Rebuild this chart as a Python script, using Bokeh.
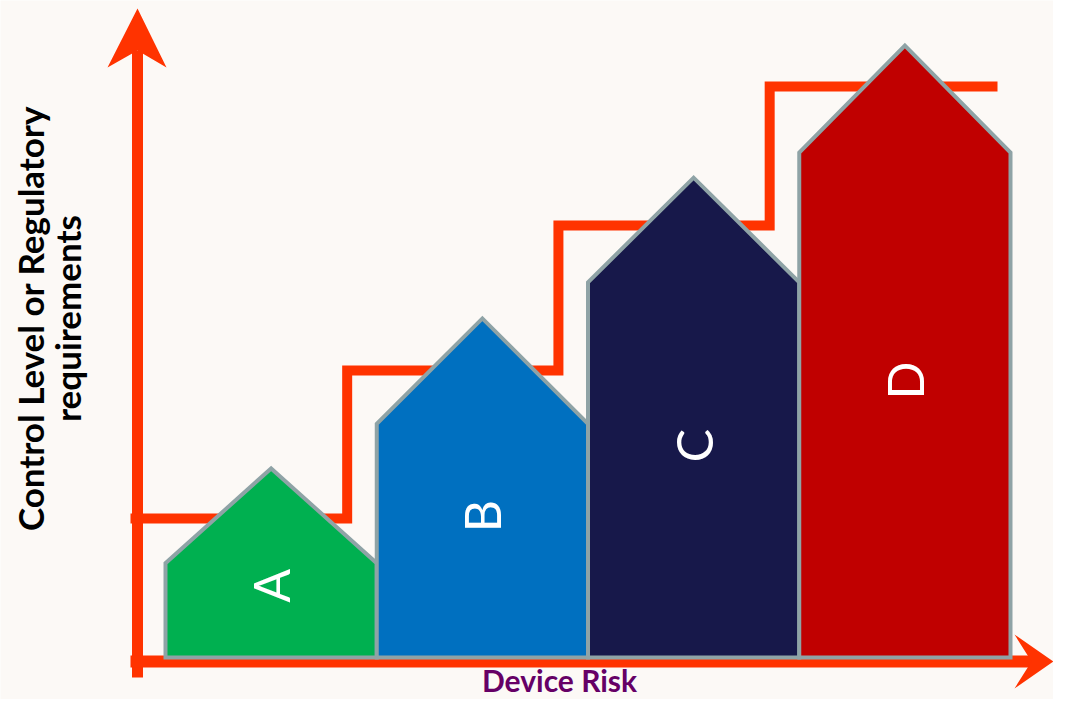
import numpy as np
from bokeh.plotting import figure
from bokeh.models import Range1d
from bokeh.core.properties import value
from bokeh.embed import file_html
from bokeh.resources import INLINE

# ---------------- data ----------------
categories = ["A", "B", "C", "D"]
wall_height = [15.4, 38.2, 61.3, 82.5]      # height of house walls
peak_height = [30.9, 55.4, 78.4, 100.0]     # height of roof peaks
control_level = [22.7, 46.9, 70.6, 93.3]    # control / regulatory step level
house_colors = ["#00B050", "#0070C0", "#17184A", "#C00000"]
y_title_lines = ["Control Level or Regulatory", "requirements"]
x_title = "Device Risk"

# ---------------- layout ----------------
W, H = 1053, 699
BG = "#FCF9F6"
ORANGE = "#FF3300"
BORDER = "#8FA3A6"
X0_PX, UNIT_PX = 165.0, 211.25   # px of category 0 left edge, px per category
Y0_PX, YUNIT_PX = 657.0, 6.12    # px (from top) of baseline, px per value unit


def fx(px):  # pixel x -> data x (decorations only)
    return (px - X0_PX) / UNIT_PX


def fy(py):  # pixel y -> data y (decorations only)
    return (Y0_PX - py) / YUNIT_PX


p = figure(width=W, height=H,
           x_range=Range1d(fx(0), fx(W)),
           y_range=Range1d(fy(H), fy(0)),
           output_backend="svg", toolbar_location=None,
           x_axis_location=None, y_axis_location=None, min_border=0)
p.grid.visible = False
p.outline_line_color = None
p.background_fill_color = BG
p.border_fill_color = BG

# axis shafts
p.line([fx(137), fx(137)], [fy(677), fy(50)], line_color=ORANGE, line_width=11)
p.line([fx(130), fx(1032)], [fy(661), fy(661)], line_color=ORANGE, line_width=12)
# arrow heads
p.patch([fx(137), fx(166), fx(137), fx(107)], [fy(8), fy(67), fy(50), fy(67)],
        fill_color=ORANGE, line_color=None)
p.patch([fx(1053), fx(1014), fx(1031), fx(1014)], [fy(661), fy(634), fy(661), fy(688)],
        fill_color=ORANGE, line_color=None)

# step line of control levels
step_off = 0.86
sx, sy = [fx(130)], [control_level[0]]
for i in range(1, len(control_level)):
    sx += [i - 1 + step_off, i - 1 + step_off]
    sy += [control_level[i - 1], control_level[i]]
sx.append(fx(997))
sy.append(control_level[-1])
p.line(sx, sy, line_color=ORANGE, line_width=10, line_join="miter")

# houses
xs, ys = [], []
for i, (w, pk) in enumerate(zip(wall_height, peak_height)):
    xs.append([i, i, i + 0.5, i + 1, i + 1])
    ys.append([0, w, pk, w, 0])
p.patches(xs, ys, fill_color=house_colors, line_color=BORDER, line_width=4,
          line_join="miter")

# letters
p.text(x=[i + 0.5 for i in range(len(categories))],
       y=[w / 2 + 4 for w in wall_height],
       text=categories, angle=np.pi / 2, text_align="center",
       text_baseline="middle", text_color="white",
       text_font=value("Lato"), text_font_size="50px")

# axis titles
p.text(x=[fx(29), fx(66)], y=[fy(318), fy(318)], text=y_title_lines,
       angle=np.pi / 2, text_align="center", text_baseline="middle",
       text_color="black", text_font=value("Lato"), text_font_style="bold",
       text_font_size="35px")
p.text(x=[fx(559)], y=[fy(679)], text=[x_title], text_align="center",
       text_baseline="middle", text_color="#660066", text_font=value("Lato"),
       text_font_style="bold", text_font_size="30px")

open("out.html", "w").write(file_html(p, INLINE))
